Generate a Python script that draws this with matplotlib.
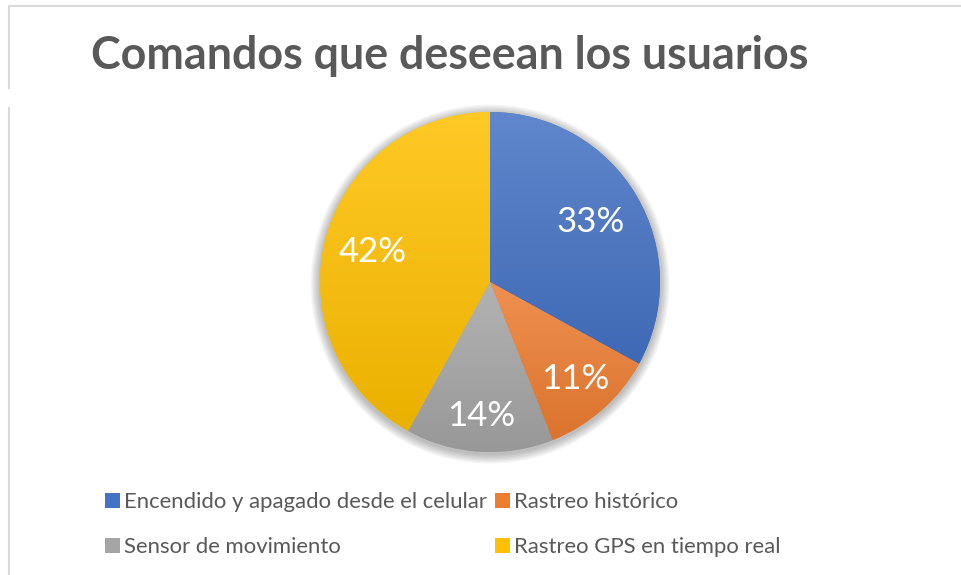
import numpy as np
import matplotlib
matplotlib.use('Agg')
import matplotlib.pyplot as plt
from matplotlib.patches import Patch, Circle
from matplotlib.colors import to_rgb

plt.rcParams['font.family'] = ['Lato', 'DejaVu Sans']

# Data
labels = ['Encendido y apagado desde el celular', 'Rastreo histórico',
          'Sensor de movimiento', 'Rastreo GPS en tiempo real']
values = [33, 11, 14, 42]
colors = ['#4472C4', '#ED7D31', '#A5A5A5', '#FFC000']
title = 'Comandos que deseean los usuarios'

W, H = 961, 575
fig = plt.figure(figsize=(W / 100, H / 100), dpi=100)

# chart frame (partly cropped)
fig.add_artist(plt.Line2D([9 / W, 1], [1 - 6 / H, 1 - 6 / H], color='#d9d9d9', lw=1.5))
fig.add_artist(plt.Line2D([9 / W, 9 / W], [1 - 6 / H, 1 - 88 / H], color='#d9d9d9', lw=1.5))
fig.add_artist(plt.Line2D([9 / W, 9 / W], [1 - 108 / H, 0], color='#d9d9d9', lw=1.5))

# pie axes: center (490, 282) px, radius 170 px
cx, cy, r = 490, 282, 170
half = 1.1 * r
ax = fig.add_axes([(cx - half) / W, (H - cy - half) / H, 2 * half / W, 2 * half / H])
ax.axis('off')

# soft shadow around the pie, a bit stronger below
for k in range(7):
    ax.add_patch(Circle((0, -0.012), 1.0 + 0.008 * (k + 1), color='#000000',
                        alpha=0.04, lw=0, zorder=0))

wedges, texts, autotexts = ax.pie(values, colors=colors, startangle=90, counterclock=False,
                                  autopct='%1.0f%%', pctdistance=0.74, radius=1.0,
                                  wedgeprops=dict(linewidth=0),
                                  textprops=dict(color='white', fontsize=25))

# per-slice label radius (Excel best-fit placement)
label_r = [0.69, 0.76, 0.79, 0.71]
for w, t, lr in zip(wedges, autotexts, label_r):
    ang = np.deg2rad((w.theta1 + w.theta2) / 2)
    t.set_position((lr * np.cos(ang), lr * np.sin(ang)))
    t.set_zorder(5)

# vertical gradient fill inside each wedge
for w, c in zip(wedges, colors):
    base = np.array(to_rgb(c))
    top = base + (1 - base) * 0.15
    bot = base * 0.92
    x0, y0, x1, y1 = w.get_path().get_extents(w.get_patch_transform()).extents
    g = np.linspace(0, 1, 256)[:, None]
    img = top[None, None, :] * (1 - g[..., None]) + bot[None, None, :] * g[..., None]
    img = np.repeat(img, 2, axis=1)
    im = ax.imshow(img, extent=[x0, x1, y0, y1], origin='upper', aspect='auto', zorder=2)
    im.set_clip_path(w)
    w.set_zorder(1)

ax.set_xlim(-1.1, 1.1)
ax.set_ylim(-1.1, 1.1)
ax.set_aspect('equal')

fig.text(450 / W, 1 - 56 / H, title, ha='center', va='center',
         fontsize=32.3, fontweight='bold', color='#595959')

# legend filled row by row like Excel
order = [0, 2, 1, 3]
handles = [Patch(facecolor=colors[i], edgecolor='none') for i in order]
leg = fig.legend(handles, [labels[i] for i in order], ncol=2, loc='upper left',
                 bbox_to_anchor=(105 / W, 1 - 492 / H), frameon=False,
                 fontsize=15.9, labelcolor='#595959', handlelength=0.68, handleheight=0.68,
                 handletextpad=0.2, columnspacing=0.35, labelspacing=1.15, borderpad=0,
                 borderaxespad=0)

fig.savefig('out.png', dpi=100)
